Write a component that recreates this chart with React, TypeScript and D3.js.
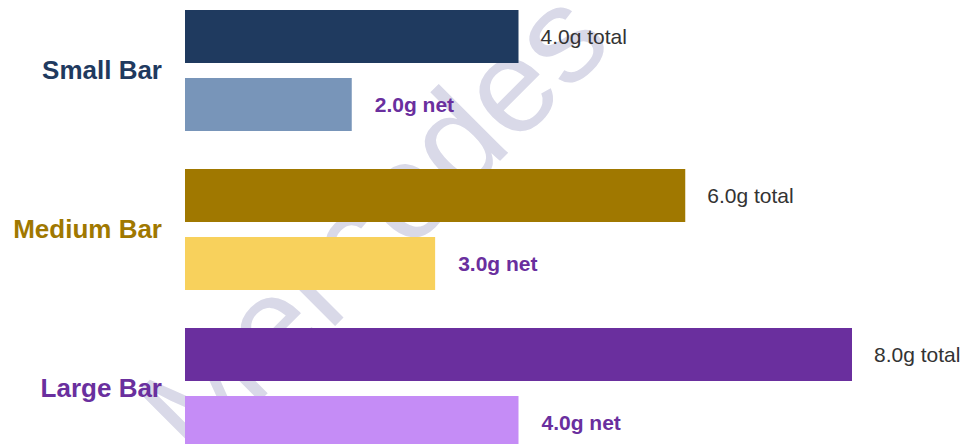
import * as d3 from 'd3'
import { useMemo } from 'react'

const groups = ['Small Bar', 'Medium Bar', 'Large Bar']
const totalValues = [4.0, 6.0, 8.0]
const netValues = [2.0, 3.0, 4.0]

const totalColours = ['#1f3a5f', '#a07800', '#6a2f9e']
const netColours = ['#7895b9', '#f8d15c', '#c58cf6']
const labelColours = ['#1f3a5f', '#a07800', '#6a2f9e']

const svgWidth = 965
const svgHeight = 444
const font = 'Arial, "Liberation Sans", Helvetica, sans-serif'

const App = () => {
    const margin = { left: 185, right: 113, top: 10 }
    const barHeight = 53
    const innerGap = 15
    const groupStep = 159

    const x = useMemo(() => {
        return d3
            .scaleLinear()
            .domain([0, d3.max(totalValues) as number])
            .range([margin.left, svgWidth - margin.right])
    }, [])

    const y = useMemo(() => {
        return d3
            .scaleBand()
            .domain(groups)
            .range([margin.top, margin.top + groupStep * groups.length])
            .paddingInner(0)
    }, [])

    const rows = groups.map((g, i) => {
        const y0 = y(g) as number
        const yNet = y0 + barHeight + innerGap
        return (
            <g key={g}>
                <rect
                    x={x(0)}
                    y={y0}
                    width={x(totalValues[i]) - x(0)}
                    height={barHeight}
                    fill={totalColours[i]}
                />
                <text
                    x={x(totalValues[i]) + 22}
                    y={y0 + barHeight / 2}
                    dominantBaseline="central"
                    fontSize={21}
                    fill="#333333"
                >
                    {totalValues[i].toFixed(1)}g total
                </text>
                <rect
                    x={x(0)}
                    y={yNet}
                    width={x(netValues[i]) - x(0)}
                    height={barHeight}
                    fill={netColours[i]}
                />
                <text
                    x={x(netValues[i]) + 23}
                    y={yNet + barHeight / 2}
                    dominantBaseline="central"
                    fontSize={21}
                    fontWeight="bold"
                    fill="#6a2f9e"
                >
                    {netValues[i].toFixed(1)}g net
                </text>
                <text
                    x={margin.left - 23}
                    y={y0 + (2 * barHeight + innerGap) / 2 - 1}
                    textAnchor="end"
                    dominantBaseline="central"
                    fontSize={26}
                    fontWeight="bold"
                    fill={labelColours[i]}
                >
                    {g}
                </text>
            </g>
        )
    })

    return (
        <svg
            width={svgWidth}
            height={svgHeight}
            style={{ position: 'absolute', left: 0, top: 0, fontFamily: font }}
        >
            <rect width={svgWidth} height={svgHeight} fill="#ffffff" />
            {/* watermark */}
            <text
                transform="translate(196,465) rotate(-45)"
                fontSize={135}
                fill="#d9d9e8"
            >
                Mercodes -
            </text>
            {rows}
        </svg>
    )
}

export default App
